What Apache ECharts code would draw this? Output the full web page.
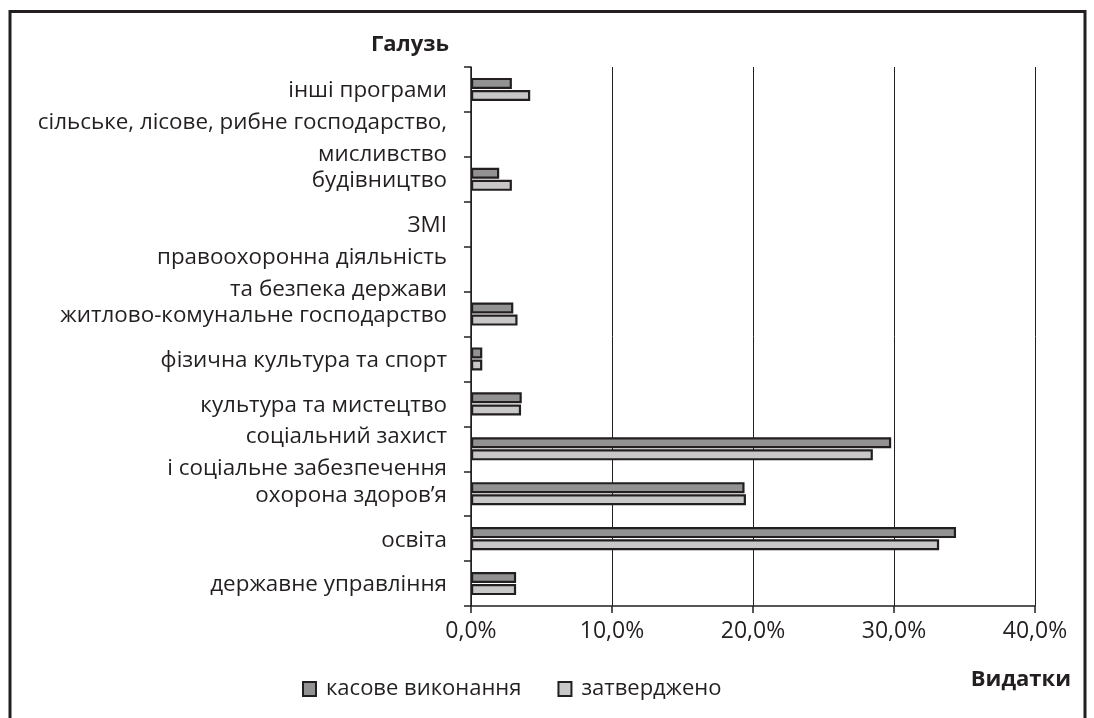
<!DOCTYPE html>
<html>
<head>
<meta charset="utf-8">
<script src="https://cdn.jsdelivr.net/npm/echarts@6/dist/echarts.min.js"></script>
<style>
html,body{margin:0;padding:0;background:#fff;}
#chart{width:1094px;height:718px;}
</style>
</head>
<body>
<div id="chart"></div>
<script>
// Categories, bottom to top
var categories = [
  'державне управління',
  'освіта',
  'охорона здоров\u2019я',
  'соціальний захист\nі соціальне забезпечення',
  'культура та мистецтво',
  'фізична культура та спорт',
  'житлово-комунальне господарство',
  'правоохоронна діяльність\nта безпека держави',
  'ЗМІ',
  'будівництво',
  'сільське, лісове, рибне господарство,\nмисливство',
  'інші програми'
];
var seriesNames = ['касове виконання', 'затверджено'];
var kasove = [3.2, 34.4, 19.4, 29.8, 3.6, 0.8, 3.0, null, null, 2.0, null, 2.9];
var zatverdzheno = [3.2, 33.2, 19.5, 28.5, 3.55, 0.8, 3.3, null, null, 2.9, null, 4.2];
var xTicks = { min: 0, max: 40, interval: 10 };
var axisTitles = { y: 'Галузь', x: 'Видатки' };

var ink = '#231f20';
var font = 'Open Sans';
var chart = echarts.init(document.getElementById('chart'), null, { renderer: 'canvas' });
chart.setOption({
  backgroundColor: '#ffffff',
  animation: false,
  textStyle: { fontFamily: font, color: ink },
  graphic: [{
    type: 'rect',
    shape: { x: 10, y: 11.5, width: 1075, height: 740 },
    style: { fill: 'none', stroke: ink, lineWidth: 3 },
    silent: true
  }],
  title: [
    { text: axisTitles.y, right: 640, top: 29,
      textStyle: { fontFamily: font, fontSize: 22, fontWeight: 'bold', color: ink } },
    { text: axisTitles.x, right: 18, top: 664,
      textStyle: { fontFamily: font, fontSize: 22, fontWeight: 'bold', color: ink } }
  ],
  legend: {
    left: 297, top: 673,
    itemWidth: 13, itemHeight: 14, itemGap: 36,
    icon: 'rect',
    data: seriesNames,
    textStyle: { fontFamily: font, fontSize: 22, color: ink, padding: [0, 0, 0, 5] }
  },
  grid: { left: 471, right: 59, top: 67, bottom: 112 },
  xAxis: {
    type: 'value',
    min: xTicks.min, max: xTicks.max, interval: xTicks.interval,
    axisLine: { show: true, lineStyle: { color: ink, width: 1.5 } },
    axisTick: { show: true, length: 7, lineStyle: { color: ink, width: 1.5 } },
    splitLine: { show: true, lineStyle: { color: ink, width: 1 } },
    axisLabel: {
      margin: 14, fontSize: 23, color: ink, fontFamily: font,
      formatter: function (v) { return v.toFixed(1).replace('.', ',') + '%'; }
    }
  },
  yAxis: {
    type: 'category',
    data: categories,
    axisLine: { show: true, lineStyle: { color: ink, width: 1.5 } },
    axisTick: { show: true, length: 7, alignWithLabel: false, lineStyle: { color: ink, width: 1.5 } },
    splitLine: { show: false },
    axisLabel: {
      margin: 24, fontSize: 22.4, lineHeight: 32, color: ink, fontFamily: font, interval: 0,
      formatter: function (v) {
        if (v.indexOf('\n') < 0) { return '{s|' + v + '}'; }
        return '{p| }\n' + v.split('\n').map(function (s) { return '{m|' + s + '}'; }).join('\n');
      },
      rich: {
        s: { fontSize: 22.4, lineHeight: 32, fontFamily: font, color: ink, padding: [3, 0, 0, 0] },
        m: { fontSize: 22.4, lineHeight: 32, fontFamily: font, color: ink },
        p: { fontSize: 4, lineHeight: 8, fontFamily: font, color: ink }
      }
    }
  },
  series: [
    {
      name: seriesNames[0], type: 'bar', data: kasove,
      barWidth: 11, barGap: '10%',
      itemStyle: { color: '#929292', borderColor: ink, borderWidth: 2.2 }
    },
    {
      name: seriesNames[1], type: 'bar', data: zatverdzheno,
      barWidth: 11, barGap: '10%',
      itemStyle: { color: '#c8c8c8', borderColor: ink, borderWidth: 2.2 }
    }
  ]
});
</script>
</body>
</html>
